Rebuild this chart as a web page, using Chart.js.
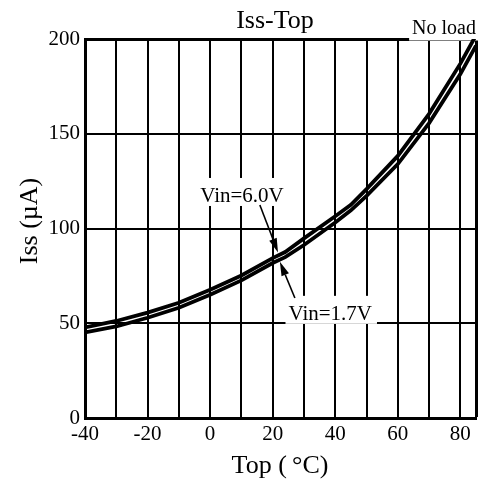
<!DOCTYPE html>
<html>
<head>
<meta charset="utf-8">
<script src="https://cdn.jsdelivr.net/npm/chart.js@4"></script>
<style>
html,body{margin:0;padding:0;background:#fff;}
#c{display:block;}
</style>
</head>
<body>
<canvas id="c" width="480" height="485" style="width:480px;height:485px"></canvas>
<script>
// ---- data ----
const temps     = [-40, -30, -20, -10, 0, 10, 20, 24, 30, 40, 45, 50, 60, 70, 80, 85];
const issVin60  = [47.8, 51.2, 55.6, 60.8, 67.7, 75.2, 84.4, 87.6, 94.8, 106.5, 112.5, 120.8, 138.3, 160.5, 187, 202];
const issVin17  = [45.2, 48.3, 52.9, 58.2, 65.0, 72.6, 81.8, 84.9, 91.3, 103.2, 109.6, 117.2, 134.0, 155.6, 181.5, 196.5];
const xGridValues = [-40, -30, -20, -10, 0, 10, 20, 30, 40, 50, 60, 70, 80, 85];
const xTickLabels = [-40, -20, 0, 20, 40, 60, 80];
const yTickLabels = [0, 50, 100, 150, 200];
const titleText = 'Iss-Top';
const noteText = 'No load';
const xTitle = 'Top (\u2009\u00B0C)';
const yTitle = 'Iss (\u00B5A)';

// annotation placement (data units)
const annotations = [
  { text: 'Vin=6.0V', at: [10.2, 114.0], tail: [15.9, 112.4], tip: [21.7, 87.4] },
  { text: 'Vin=1.7V', at: [38.4, 51.8], tail: [27.1, 63.3], tip: [22.3, 82.4] }
];

const SERIF = '"Liberation Serif", "Times New Roman", serif';

function arrow(ctx, x1, y1, x2, y2) {
  const ang = Math.atan2(y2 - y1, x2 - x1);
  const hl = 14, hw = 4;
  const bx = x2 - hl * Math.cos(ang), by = y2 - hl * Math.sin(ang);
  ctx.beginPath();
  ctx.moveTo(x1, y1);
  ctx.lineTo(bx, by);
  ctx.lineWidth = 1.6;
  ctx.strokeStyle = '#000';
  ctx.stroke();
  ctx.beginPath();
  ctx.moveTo(x2, y2);
  ctx.lineTo(bx + hw * Math.sin(ang), by - hw * Math.cos(ang));
  ctx.lineTo(bx - hw * Math.sin(ang), by + hw * Math.cos(ang));
  ctx.closePath();
  ctx.fillStyle = '#000';
  ctx.fill();
}

const overlay = {
  id: 'overlay',
  beforeDatasetsDraw(chart) {
    const ctx = chart.ctx, xs = chart.scales.x, ys = chart.scales.y, ca = chart.chartArea;
    ctx.save();
    ctx.font = '21px ' + SERIF;
    for (const a of annotations) {
      const cx = xs.getPixelForValue(a.at[0]);
      const by = ys.getPixelForValue(a.at[1]);
      const w = ctx.measureText(a.text).width;
      ctx.fillStyle = '#fff';
      ctx.fillRect(cx - w / 2 - 3, by - 24, w + 8, 28);
      ctx.fillStyle = '#000';
      ctx.textAlign = 'center';
      ctx.textBaseline = 'alphabetic';
      ctx.fillText(a.text, cx, by);
      arrow(ctx, xs.getPixelForValue(a.tail[0]), ys.getPixelForValue(a.tail[1]),
                 xs.getPixelForValue(a.tip[0]), ys.getPixelForValue(a.tip[1]));
    }
    ctx.font = '20px ' + SERIF;
    const nw = ctx.measureText(noteText).width;
    ctx.fillStyle = '#fff';
    ctx.fillRect(ca.right - nw - 3, 10, nw + 10, ca.top + 1.5 - 10);
    ctx.fillStyle = '#000';
    ctx.textAlign = 'right';
    ctx.textBaseline = 'alphabetic';
    ctx.fillText(noteText, ca.right, 34);
    ctx.font = '26px ' + SERIF;
    ctx.textAlign = 'center';
    ctx.fillText(titleText, 275, 28);
    ctx.fillText(xTitle, 280, 473);
    ctx.save();
    ctx.translate(37, 221);
    ctx.rotate(-Math.PI / 2);
    ctx.textAlign = 'center';
    ctx.fillText(yTitle, 0, 0);
    ctx.restore();
    ctx.restore();
  }
};

const lineStyle = {
  borderColor: '#000',
  borderWidth: 3.8,
  pointRadius: 0,
  tension: 0,
  fill: false
};

new Chart(document.getElementById('c'), {
  type: 'line',
  data: {
    datasets: [
      Object.assign({ label: 'Vin=6.0V', data: temps.map((t, i) => ({ x: t, y: issVin60[i] })) }, lineStyle),
      Object.assign({ label: 'Vin=1.7V', data: temps.map((t, i) => ({ x: t, y: issVin17[i] })) }, lineStyle)
    ]
  },
  options: {
    responsive: false,
    animation: false,
    devicePixelRatio: 1,
    layout: { padding: { top: 39, right: 4, left: 0, bottom: 0 } },
    plugins: { legend: { display: false }, title: { display: false }, tooltip: { enabled: false } },
    scales: {
      x: {
        type: 'linear',
        min: -40, max: 85,
        afterBuildTicks: s => { s.ticks = xGridValues.map(v => ({ value: v })); },
        ticks: {
          color: '#000',
          font: { family: SERIF, size: 21 },
          padding: 4,
          maxRotation: 0,
          autoSkip: false,
          callback: v => xTickLabels.includes(v) ? String(v) : ''
        },
        grid: {
          color: '#000',
          lineWidth: c => (c.tick && c.tick.value === 85) ? 3 : 2,
          drawTicks: false
        },
        border: { color: '#000', width: 3 },
        afterFit: s => { s.height = 67; }
      },
      y: {
        type: 'linear',
        min: 0, max: 200,
        ticks: {
          stepSize: 50,
          color: '#000',
          font: { family: SERIF, size: 21 },
          padding: 5,
          callback: v => yTickLabels.includes(v) ? String(v) : ''
        },
        grid: {
          color: '#000',
          lineWidth: c => (c.tick && c.tick.value === 200) ? 3 : 2,
          drawTicks: false
        },
        border: { color: '#000', width: 3 },
        afterFit: s => { s.width = 85; }
      }
    }
  },
  plugins: [overlay]
});
</script>
</body>
</html>
